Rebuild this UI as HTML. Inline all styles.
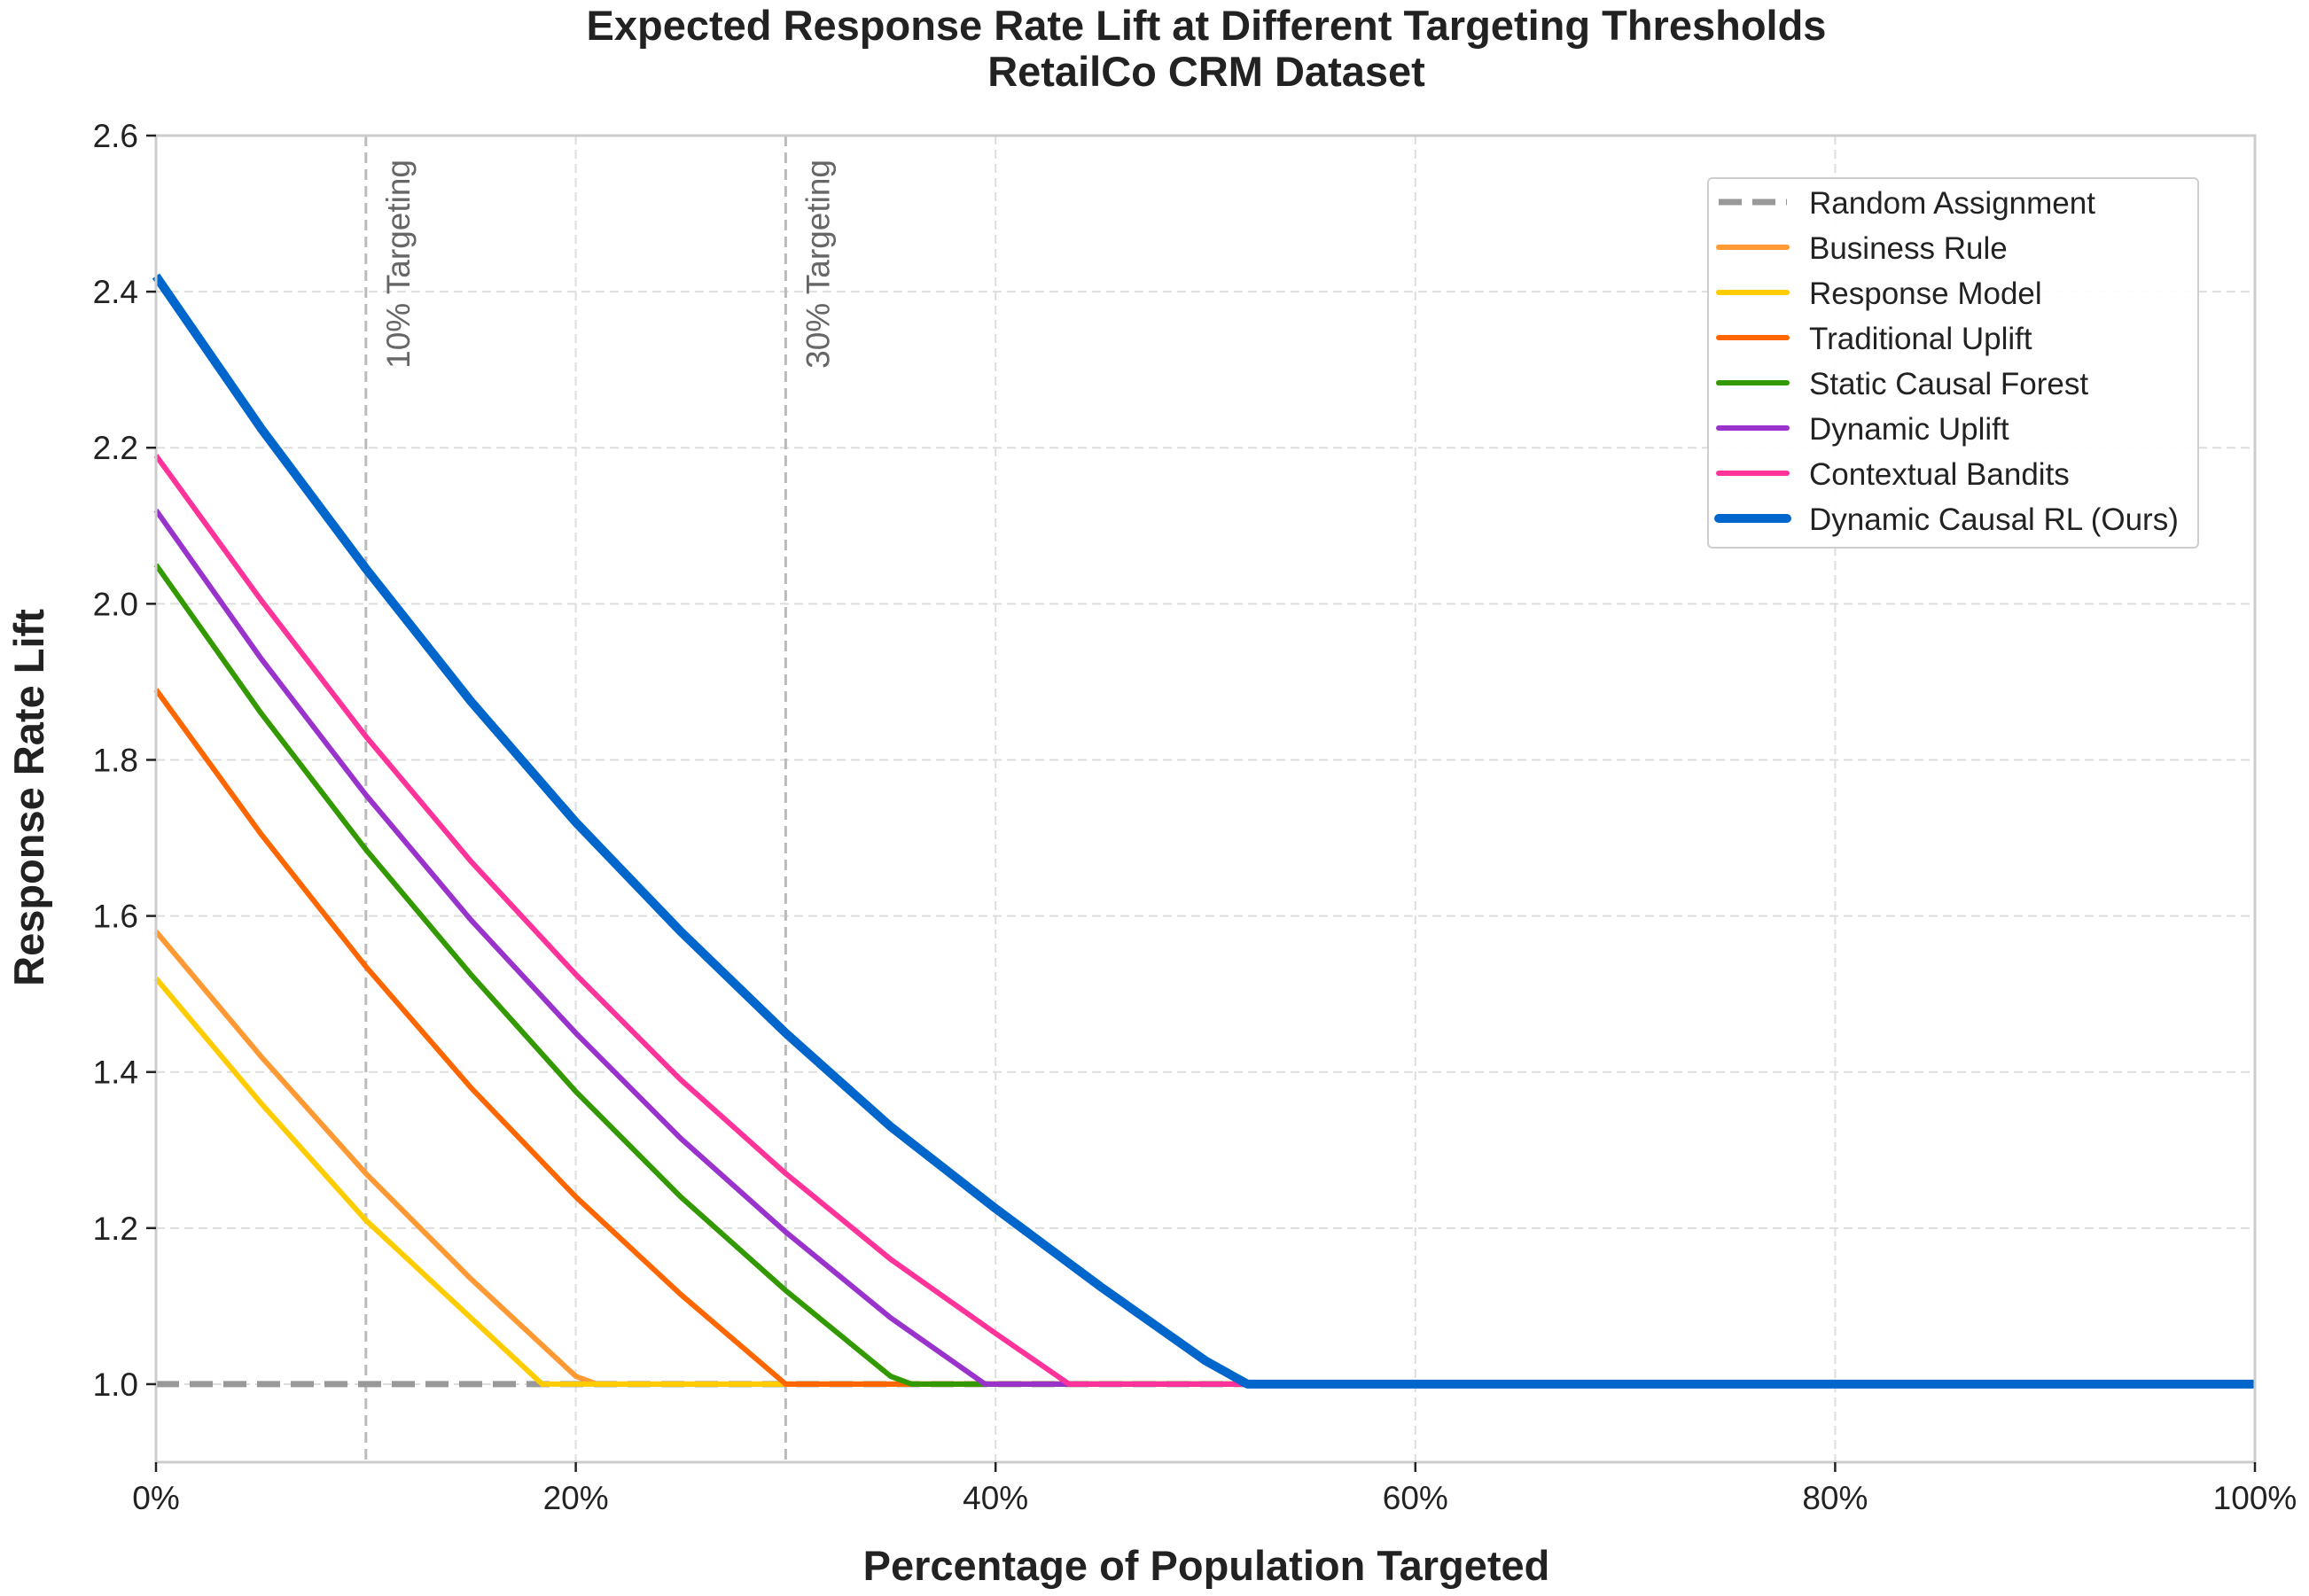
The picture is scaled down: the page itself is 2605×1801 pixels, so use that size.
<!DOCTYPE html>
<html><head><meta charset="utf-8"><style>
html,body{margin:0;padding:0;background:#fff;}
svg{display:block;font-family:"Liberation Sans",Arial,sans-serif;}
</style></head><body>
<svg id="chart" width="2605" height="1801" viewBox="0 0 2605 1801" xmlns="http://www.w3.org/2000/svg">
<rect width="2605" height="1801" fill="#fff"/>
<text x="1361" y="45" text-anchor="middle" font-size="47" font-weight="bold" fill="#222">Expected Response Rate Lift at Different Targeting Thresholds</text>
<text x="1361" y="97" text-anchor="middle" font-size="47" font-weight="bold" fill="#222">RetailCo CRM Dataset</text>
<g id="grid"></g>
<g id="vlines"></g>
<g id="series"></g>
<rect x="176" y="153" width="2368" height="1497" fill="none" stroke="#cccccc" stroke-width="3"/>
<g id="ticks"></g>
<text x="1361" y="1783" text-anchor="middle" font-size="47" font-weight="bold" fill="#222">Percentage of Population Targeted</text>
<text transform="translate(49,900) rotate(-90)" text-anchor="middle" font-size="47" font-weight="bold" fill="#222">Response Rate Lift</text>
<g id="legend"></g>
</svg>
<script>
const seriesNames = ["Random Assignment","Business Rule","Response Model","Traditional Uplift","Static Causal Forest","Dynamic Uplift","Contextual Bandits","Dynamic Causal RL (Ours)"];
const seriesColors = ["#999999","#ff9933","#ffcc00","#ff6600","#339900","#9933cc","#ff3399","#0066cc"];
const randomX = [0, 100];
const randomY = [1.0, 1.0];
const businessX = [0,5,10,15,20,21,100];
const businessY = [1.58,1.42,1.27,1.135,1.01,1.0,1.0];
const responseX = [0,5,10,15,18.4,100];
const responseY = [1.52,1.36,1.21,1.085,1.0,1.0];
const tradX = [0,5,10,15,20,25,30,100];
const tradY = [1.89,1.705,1.535,1.38,1.24,1.115,1.0,1.0];
const forestX = [0,5,10,15,20,25,30,35,36,100];
const forestY = [2.05,1.86,1.685,1.525,1.375,1.24,1.12,1.01,1.0,1.0];
const dynUpX = [0,5,10,15,20,25,30,35,39.5,100];
const dynUpY = [2.12,1.93,1.755,1.595,1.45,1.315,1.195,1.085,1.0,1.0];
const banditX = [0,5,10,15,20,25,30,35,40,43.5,100];
const banditY = [2.19,2.005,1.83,1.67,1.525,1.39,1.27,1.16,1.065,1.0,1.0];
const rlX = [0,5,10,15,20,25,30,35,40,45,50,52,100];
const rlY = [2.42,2.225,2.045,1.875,1.72,1.58,1.45,1.33,1.225,1.125,1.03,1.0,1.0];
const xTicks = [0,20,40,60,80,100];
const xTickLabels = ["0%","20%","40%","60%","80%","100%"];
const yTicks = [1.0,1.2,1.4,1.6,1.8,2.0,2.2,2.4,2.6];
const yTickLabels = ["1.0","1.2","1.4","1.6","1.8","2.0","2.2","2.4","2.6"];
const thresholds = [10,30];
const thresholdLabels = ["10% Targeting","30% Targeting"];

const NS="http://www.w3.org/2000/svg";
const L=176,R=2544,T=153,B=1650,YMIN=0.9,YMAX=2.6;
const xs=v=>L+(v/100)*(R-L);
const ys=v=>B-(v-YMIN)/(YMAX-YMIN)*(B-T);
function mk(tag,attrs,parent){const e=document.createElementNS(NS,tag);for(const k in attrs)e.setAttribute(k,attrs[k]);parent.appendChild(e);return e;}
const grid=document.getElementById('grid'),ticks=document.getElementById('ticks');
xTicks.forEach((t,i)=>{
  const g=mk('line',{x1:xs(t),x2:xs(t),y1:T,y2:B,stroke:'#dddddd','stroke-width':2,'stroke-dasharray':'10,6'},grid);
  
  
  const tk=mk('line',{x1:xs(t),x2:xs(t),y1:B,y2:B+11,stroke:'#222','stroke-width':2.5},ticks);
  
  
  const tx=mk('text',{x:xs(t),y:B+53,'text-anchor':'middle','font-size':37,fill:'#222'},ticks);
  tx.textContent=xTickLabels[i];
  
  
});
yTicks.forEach((t,i)=>{
  const g=mk('line',{x1:L,x2:R,y1:ys(t),y2:ys(t),stroke:'#dddddd','stroke-width':2,'stroke-dasharray':'10,6'},grid);
  
  
  const tk=mk('line',{x1:L-11,x2:L,y1:ys(t),y2:ys(t),stroke:'#222','stroke-width':2.5},ticks);
  
  
  const tx=mk('text',{x:L-20,y:ys(t)+13,'text-anchor':'end','font-size':37,fill:'#222'},ticks);
  tx.textContent=yTickLabels[i];
  
  
});
const vl=document.getElementById('vlines');
thresholds.forEach((t,i)=>{
  const l=mk('line',{x1:xs(t),x2:xs(t),y1:T,y2:B,stroke:'#bbbbbb','stroke-width':3,'stroke-dasharray':'12,7'},vl);
  
  
  const tx=mk('text',{transform:`translate(${xs(t)+49},${T+27}) rotate(-90)`,'text-anchor':'end','font-size':37,fill:'#666'},vl);
  tx.textContent=thresholdLabels[i];
  
  
});
const data=[[randomX,randomY],[businessX,businessY],[responseX,responseY],[tradX,tradY],[forestX,forestY],[dynUpX,dynUpY],[banditX,banditY],[rlX,rlY]];
const widths=[7,6,6,6,6,6,6,10];
const sg=document.getElementById('series');
[0,1,2,3,4,5,6,7].forEach(i=>{
  const [X,Y]=data[i];
  const pts=X.map((x,j)=>xs(x).toFixed(1)+','+ys(Y[j]).toFixed(1)).join(' ');
  const attrs={points:pts,fill:'none',stroke:seriesColors[i],'stroke-width':widths[i],'stroke-linejoin':'round'};
  if(i===0){attrs['stroke-dasharray']='26,12';}
  const p=mk('polyline',attrs,sg);
  
  
});
const lg=document.getElementById('legend');
const box=mk('rect',{x:1927,y:201,width:553,height:417,rx:5,fill:'#fff',stroke:'#cccccc','stroke-width':2,opacity:0.95},lg);


seriesNames.forEach((n,i)=>{
  const y=228+i*51;
  const a={x1:1939,x2:2016,y1:y,y2:y,stroke:seriesColors[i],'stroke-width':i===0?7:(i===7?10:6),'stroke-linecap':i===0?'butt':'round'};
  if(i===0)a['stroke-dasharray']='26,12';
  const ln=mk('line',a,lg);
  
  
  const t=mk('text',{x:2041,y:y+13,'font-size':35,fill:'#222'},lg);
  t.textContent=n;
  
  
});
</script>
</body></html>
